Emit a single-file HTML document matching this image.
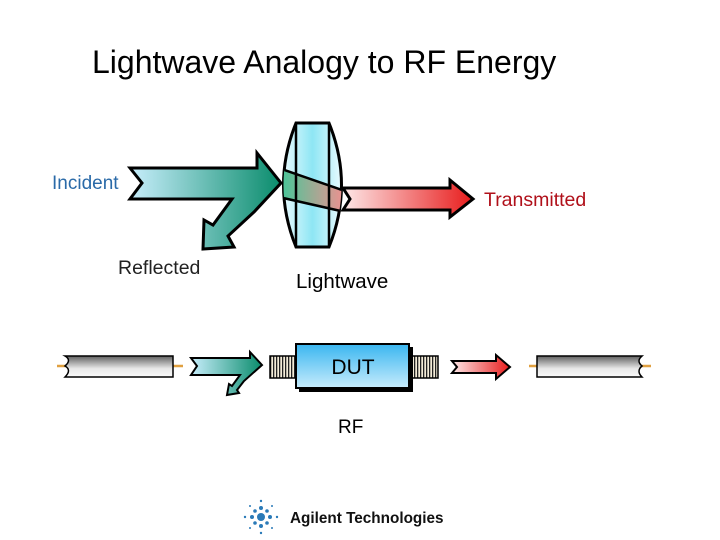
<!DOCTYPE html>
<html><head><style>body{margin:0;background:#fff}svg{display:block}text{font-family:"Liberation Sans",sans-serif}</style></head><body>
<svg width="720" height="540" viewBox="0 0 720 540">
<defs>
<linearGradient id="bg" x1="0" x2="1"><stop offset="0" stop-color="#c8eefc"/><stop offset="1" stop-color="#0a8c6c"/></linearGradient>
<linearGradient id="rg" x1="0" x2="1"><stop offset="0" stop-color="#fde8e8"/><stop offset="1" stop-color="#e81c1c"/></linearGradient>
<linearGradient id="lens" x1="0" x2="1"><stop offset="0" stop-color="#e8fafe"/><stop offset="0.5" stop-color="#8ee6f4"/><stop offset="1" stop-color="#e8fafe"/></linearGradient>
<linearGradient id="band" x1="0" x2="1"><stop offset="0" stop-color="#2ad09a"/><stop offset="1" stop-color="#f09090"/></linearGradient>
<linearGradient id="cab" x1="0" y1="0" x2="0" y2="1"><stop offset="0" stop-color="#606060"/><stop offset="0.6" stop-color="#e8e8e8"/><stop offset="1" stop-color="#fafafa"/></linearGradient>
<linearGradient id="dut" x1="0" y1="0" x2="0" y2="1"><stop offset="0" stop-color="#3ab6f0"/><stop offset="1" stop-color="#c8ecfc"/></linearGradient>
<pattern id="thr" width="3" height="10" patternUnits="userSpaceOnUse"><rect width="3" height="10" fill="#f4ecd8"/><rect width="1.3" height="10" fill="#222"/></pattern>
<clipPath id="lc"><path d="M296,123 L329,123 Q354,185 329,247 L296,247 Q271,185 296,123Z"/></clipPath>
</defs>
<text x="92" y="73" font-size="32">Lightwave Analogy to RF Energy</text>
<text x="52" y="189" font-size="19" fill="#2a6aa8">Incident</text>
<text x="484" y="206" font-size="19.5" fill="#b0101a">Transmitted</text>
<text x="118" y="274" font-size="19.5" fill="#222">Reflected</text>
<text x="296" y="288" font-size="20.5">Lightwave</text>
<polygon points="130,168 257,168 257,153 281,183 254,212 228,236 234,247 203,249 204,220 213,225 232,199 130,199 142,183" fill="url(#bg)" stroke="#000" stroke-width="3" stroke-linejoin="miter"/>
<path d="M296,123 L329,123 Q354,185 329,247 L296,247 Q271,185 296,123Z" fill="url(#lens)" stroke="#000" stroke-width="3"/>
<polygon clip-path="url(#lc)" points="270,165 345,191 345,212 270,195" fill="url(#band)" stroke="#000" stroke-width="2.5"/>
<line x1="296" y1="123" x2="296" y2="247" stroke="#000" stroke-width="2.5"/>
<line x1="329" y1="123" x2="329" y2="247" stroke="#000" stroke-width="2.5"/>
<polygon points="343,188 450,188 450,180 473,199 450,217 450,210 343,210 350,199" fill="url(#rg)" stroke="#000" stroke-width="3"/>
<line x1="57" y1="366" x2="183" y2="366" stroke="#e0a040" stroke-width="2.5"/>
<path d="M65,356 L173,356 L173,377 L65,377 Q72,370 65,366 Q72,360 65,356Z" fill="url(#cab)" stroke="#000" stroke-width="1.5"/>
<polygon points="191,358 250,358 250,352 262,365 244,381 237,390 239,393 227,395 229,384 232,386 240,375 191,375 197,366" fill="url(#bg)" stroke="#000" stroke-width="2"/>
<rect x="270" y="356" width="27" height="22" fill="url(#thr)" stroke="#000" stroke-width="1.5"/>
<rect x="410" y="356" width="28" height="22" fill="url(#thr)" stroke="#000" stroke-width="1.5"/>
<rect x="299" y="347" width="114" height="45" fill="#000"/>
<rect x="296" y="344" width="113" height="44" fill="url(#dut)" stroke="#000" stroke-width="2"/>
<text x="353" y="374" font-size="21" text-anchor="middle">DUT</text>
<polygon points="452,361 496,361 496,355 510,367 496,379 496,373 452,373 457,367" fill="url(#rg)" stroke="#000" stroke-width="2"/>
<line x1="529" y1="366" x2="651" y2="366" stroke="#e0a040" stroke-width="2.5"/>
<path d="M537,356 L642,356 Q636,361 642,366 Q636,371 642,377 L537,377Z" fill="url(#cab)" stroke="#000" stroke-width="1.5"/>
<text x="338" y="433" font-size="19">RF</text>
<g fill="#2a7ab8">
<circle cx="261" cy="517" r="4"/>
<circle cx="261" cy="508" r="2"/><circle cx="261" cy="526" r="2"/><circle cx="252" cy="517" r="2"/><circle cx="270" cy="517" r="2"/>
<circle cx="255" cy="511" r="1.8"/><circle cx="267" cy="511" r="1.8"/><circle cx="255" cy="523" r="1.8"/><circle cx="267" cy="523" r="1.8"/>
<circle cx="261" cy="501" r="1.2"/><circle cx="261" cy="533" r="1.2"/><circle cx="245" cy="517" r="1.2"/><circle cx="277" cy="517" r="1.2"/>
<circle cx="250" cy="506" r="1"/><circle cx="272" cy="506" r="1"/><circle cx="250" cy="528" r="1"/><circle cx="272" cy="528" r="1"/>
</g>
<text x="290" y="523" font-size="15.3" font-weight="bold" fill="#111">Agilent Technologies</text>
</svg>
</body></html>
